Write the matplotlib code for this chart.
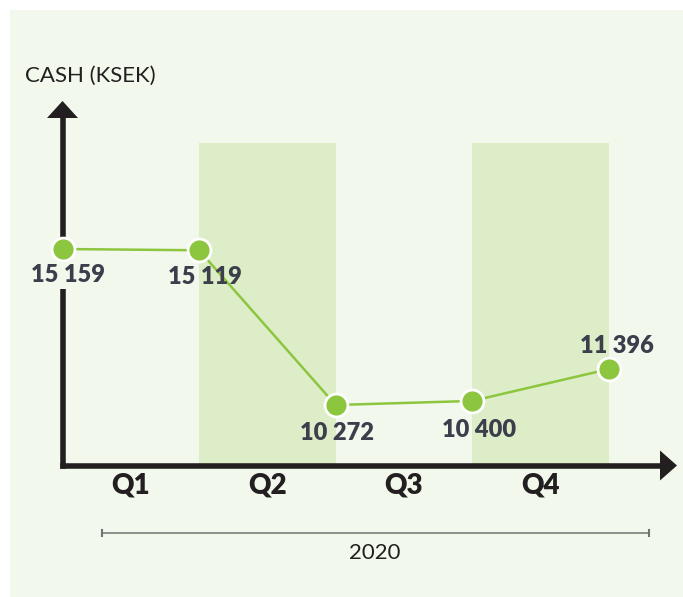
import matplotlib.pyplot as plt
from matplotlib.patches import Polygon, Rectangle

# data
x_pos = [0, 1, 2, 3, 4]
cash = [15159, 15119, 10272, 10400, 11396]
cash_labels = ["15 159", "15 119", "10 272", "10 400", "11 396"]
quarters = ["Q1", "Q2", "Q3", "Q4"]
quarter_pos = [0.5, 1.5, 2.5, 3.5]
shaded = [(1, 2), (3, 4)]
year = "2020"

# label offsets in points (dx, dy)
label_offsets = [(4, -19), (4, -19), (1, -20), (5, -21), (6, 17)]

W, H = 683, 597
BG = "#f2f8ec"
BAND = "#ddedc8"
GREEN = "#8cc63f"
DARK = "#231f20"
TEXT = "#3c3e4c"

plt.rcParams["font.family"] = ["Lato", "DejaVu Sans"]


def fx(px):
    return px / W


def fy(py):
    return 1 - py / H


fig = plt.figure(figsize=(W / 100, H / 100), dpi=100)
fig.patch.set_facecolor("white")
fig.add_artist(Rectangle((fx(10), 0), 1 - fx(10), fy(10), transform=fig.transFigure,
                         facecolor=BG, edgecolor="none", zorder=-10))

left, right, top, bottom = 62.5, 677, 101, 465.5
ax = fig.add_axes([fx(left), fy(bottom), fx(right - left), (bottom - top) / H])
ax.set_facecolor("none")
ax.set_zorder(1)
for s in ax.spines.values():
    s.set_visible(False)

ax.set_xlim(0, 4.5)
ax.set_ylim(8377, 19796)

for a, b in shaded:
    ax.axvspan(a, b, ymin=0, ymax=0.886, color=BAND, lw=0, zorder=1)

ax.plot(x_pos, cash, color=GREEN, lw=1.8, zorder=3)
ax.plot(x_pos, cash, "o", color=GREEN, ms=16.5, mec="white", mew=2, zorder=4, clip_on=False)

for x, y, lab, (dx, dy) in zip(x_pos, cash, cash_labels, label_offsets):
    # the label sitting on the y axis hides the axis line behind it
    box = dict(fc=BG, ec="none", pad=2) if x == 0 else None
    ax.annotate(lab, (x, y), xytext=(dx, dy), textcoords="offset points",
                ha="center", va="center", fontsize=17, fontweight="heavy", color=TEXT,
                bbox=box, zorder=5)

ax.set_yticks([])
ax.set_xticks(quarter_pos)
ax.set_xticklabels(quarters, fontsize=20, fontweight="heavy", color=DARK)
ax.tick_params(axis="x", length=0, pad=5)

# axis lines with arrow heads
lw = 4
fig.add_artist(plt.Line2D([fx(62.5), fx(662)], [fy(465.5), fy(465.5)], color=DARK, lw=lw,
                          solid_capstyle="projecting", zorder=5))
fig.add_artist(plt.Line2D([fx(62.5), fx(62.5)], [fy(465.5), fy(116)], color=DARK, lw=lw,
                          solid_capstyle="projecting", zorder=0.5))
fig.add_artist(Polygon([(fx(660), fy(450.5)), (fx(677), fy(465.5)), (fx(660), fy(480.5))],
                       closed=True, transform=fig.transFigure, color=DARK, lw=0, zorder=5))
fig.add_artist(Polygon([(fx(47), fy(118)), (fx(62.5), fy(101)), (fx(78), fy(118))],
                       closed=True, transform=fig.transFigure, color=DARK, lw=0, zorder=5))

fig.text(fx(25), fy(82), "CASH (KSEK)", fontsize=16, fontweight="normal", color=DARK, va="baseline")

# year bracket
gray = "#707372"
fig.add_artist(plt.Line2D([fx(101.5), fx(649)], [fy(532.5), fy(532.5)], color=gray, lw=1.1))
for bx in (101.5, 649):
    fig.add_artist(plt.Line2D([fx(bx), fx(bx)], [fy(529.5), fy(536)], color=gray, lw=1.5))
fig.text(fx(375), fy(559), year, fontsize=16, fontweight="normal", color=DARK, ha="center", va="baseline")

fig.savefig("out.png", dpi=100)
